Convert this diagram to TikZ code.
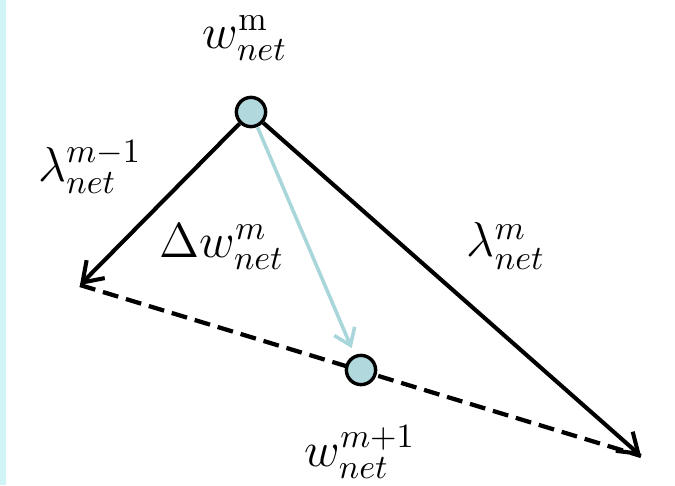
\documentclass[tikz,border=0pt]{standalone}
\usepackage{amsmath}
\usepackage{tikz}
\usetikzlibrary{arrows.meta,positioning,calc}
\definecolor{wgrey}{HTML}{B0D8DD}
\definecolor{wstep}{HTML}{A8D6DB}
\definecolor{wedge}{HTML}{CFF3F7}

\begin{document}
\begin{tikzpicture}[
    x=0.294pt,y=-0.294pt,
    wpt/.style  = {circle, draw=black, fill=wgrey, line width=1pt,
                   minimum size=8.6pt, inner sep=0pt},
    vec/.style  = {-{Straight Barb[length=5.5pt,width=7.5pt]}, line width=1.2pt, black},
    dvec/.style = {-{Straight Barb[length=4.5pt,width=6.5pt]}, line width=1.05pt, wstep,
                   shorten >=2.2pt},
    lin/.style  = {line width=1.25pt, dash pattern=on 4.7pt off 2.35pt},
    lab/.style  = {font=\Large, inner sep=0pt},
  ]
  \useasboundingbox (0,0) rectangle (675,485);
  \fill[wedge] (0,0) rectangle (6,485);

  \coordinate (pl) at (80,285);
  \coordinate (pr) at (641,456);
  \draw[lin] (pl) -- (pr);

  \node[wpt] (wm) at (251,112) {};
  \node[wpt] (wn) at (361,370) {};

  \draw[vec]  (wm) -- (pl);
  \draw[vec]  (wm) -- (pr);
  \draw[dvec] (wm) -- (wn);

  \node[lab] (lwm)  at (245,38)  {$w^{\mathrm{m}}_{net}$};
  \node[lab] (llml) at (90,167)  {$\lambda^{m-1}_{net}$};
  \node[lab] (ldw)  at (222,247) {$\Delta w^{m}_{net}$};
  \node[lab] (llmr) at (506,246) {$\lambda^{m}_{net}$};
  \node[lab] (lwn)  at (360,452) {$w^{m+1}_{net}$};

\end{tikzpicture}
\end{document}
